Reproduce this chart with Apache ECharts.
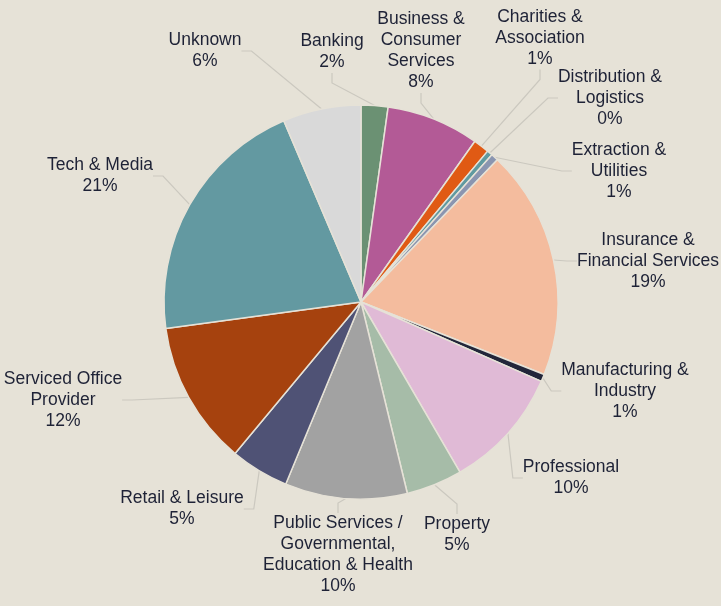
<!DOCTYPE html>
<html><head><meta charset="utf-8">
<script src="https://cdn.jsdelivr.net/npm/echarts@6/dist/echarts.min.js"></script>
<style>html,body{margin:0;padding:0;background:#e6e2d7}#c{width:721px;height:606px}</style>
</head><body><div id="c"></div>
<script>
const categories = ["Banking","Business &\nConsumer\nServices","Charities &\nAssociation","Distribution &\nLogistics","Extraction &\nUtilities","Insurance &\nFinancial Services","Manufacturing &\nIndustry","Professional","Property","Public Services /\nGovernmental,\nEducation & Health","Retail & Leisure","Serviced Office\nProvider","Tech & Media","Unknown"];
const values = [2.2, 7.6, 1.3, 0.45, 0.6, 18.8, 0.6, 10.0, 4.6, 10.0, 4.8, 11.8, 20.7, 6.4];
const colors = ["#6b9173","#b35a96","#e05a14","#5f9aa0","#8a95b0","#f4bc9e","#22263a","#e0bad6","#a6bca8","#a2a2a2","#4f5275","#a6420e","#6399a1","#d9d9d9"];
// label anchor (centre of text block) for each category
const labelPos = [[332,52],[421,51],[540,38],[610,98],[619,171],[648,261],[625,391],[571,478],[457,535],[338,555],[182,509],[63,400],[100,176],[205,51]];

const chart = echarts.init(document.getElementById('c'));
chart.setOption({
  backgroundColor: '#e6e2d7',
  animation: false,
  series: [{
    type: 'pie',
    center: [361, 302],
    radius: 197,
    startAngle: 90,
    clockwise: true,
    data: categories.map((n, i) => ({name: n, value: values[i], itemStyle: {color: colors[i]}})),
    itemStyle: {borderColor: '#e6e2d7', borderWidth: 1.5},
    label: {
      show: true,
      position: 'outside',
      formatter: p => p.name + '\n' + Math.round(p.percent) + '%',
      fontFamily: 'Liberation Sans, Arial, sans-serif',
      fontSize: 17.5,
      lineHeight: 21,
      color: '#1e2236',
      align: 'center'
    },
    labelLine: {show: true, length: 15, length2: 10, lineStyle: {color: '#cbc8bf', width: 1.2}},
    labelLayout: function (params) {
      const p = labelPos[params.dataIndex];
      return {x: p[0], y: p[1], align: 'center', verticalAlign: 'middle'};
    }
  }]
});
</script></body></html>
